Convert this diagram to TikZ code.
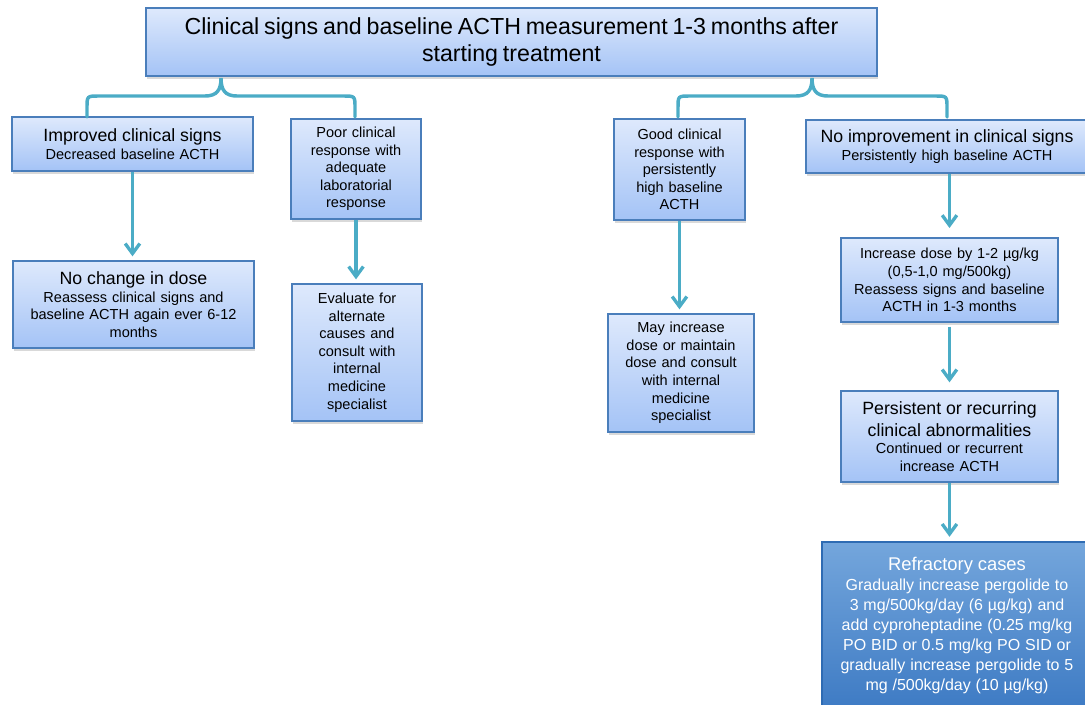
\documentclass[tikz,border=0pt]{standalone}
\usepackage{fontspec}
\setmainfont{Liberation Sans}
\usetikzlibrary{arrows.meta,shadows}

\definecolor{boxtop}{HTML}{DEE9FC}
\definecolor{boxbot}{HTML}{A4C3F6}
\definecolor{boxline}{HTML}{4A7EBB}
\definecolor{flowc}{HTML}{4BACC6}
\definecolor{hottop}{HTML}{74A6DC}
\definecolor{hotbot}{HTML}{3E7BC4}
\definecolor{hotline}{HTML}{2E6BB3}

\newcommand\bigt{\fontsize{17.4}{20.3}\selectfont}
\newcommand\ttl{\fontsize{13.3}{16.3}\selectfont}
\newcommand\sbt{\fontsize{10.9}{13.2}\selectfont}
\newcommand\rft{\fontsize{13.8}{16.5}\selectfont}
\newcommand\rfb{\fontsize{12}{15}\selectfont}

\tikzset{
  box/.style={draw=boxline, line width=1pt, top color=boxtop, bottom color=boxbot,
    inner sep=0pt, align=center, font=\sbt,
    drop shadow={shadow xshift=1pt, shadow yshift=-2pt, opacity=0.3}},
  hot/.style={box, draw=hotline, line width=1.8pt, top color=hottop,
    bottom color=hotbot, text=white},
  wh/.style 2 args={minimum width=#1pt, minimum height=#2pt, text width=#1pt},
  flow/.style={draw=flowc, line width=2.5pt,
    -{Straight Barb[length=7.5pt,width=11pt]}, shorten >=3pt},
  curly/.style={draw=flowc, line width=2.6pt, line cap=round}
}

\begin{document}
\begin{tikzpicture}[x=0.75pt, y=-0.75pt]
        \useasboundingbox (0,0) rectangle (1085,704);
        % 顶部框
        \node[box, wh={548.25}{51}] (top) at (511.5,42)
          {\bigt Clinical signs and baseline ACTH measurement 1-3 months after\\starting treatment\par};
        % 第二层四个框
        \node[box, wh={180.75}{40.5}] (improved) at (132.5,144)
          {\ttl Improved clinical signs\par\sbt Decreased baseline ACTH\par};
        \node[box, wh={97.5}{75}] (poor) at (356,169)
          {Poor clinical\\response with\\adequate\\laboratorial\\response\par};
        \node[box, wh={98.25}{75.75}] (good) at (679.5,169.5)
          {Good clinical\\response with\\persistently\\high baseline\\ACTH\par};
        \node[box, wh={211.5}{39.75}] (noimpr) at (947,146.5)
          {\ttl No improvement in clinical signs\par\sbt Persistently high baseline ACTH\par};
        % 第三层
        \node[box, wh={180.75}{65.25}] (nochange) at (133.5,304.5)
          {\ttl No change in dose\par\sbt Reassess clinical signs and\\baseline ACTH again ever 6-12\\months\par};
        \node[box, wh={97.5}{102.75}] (evaluate) at (357,352.5)
          {Evaluate for\\alternate\\causes and\\consult with\\internal\\medicine\\specialist\par};
        \node[box, wh={109.5}{88.5}] (mayinc) at (681,373)
          {May increase\\dose or maintain\\dose and consult\\with internal\\medicine\\specialist\par};
        \node[box, wh={162.75}{63}] (incdose) at (949.5,280)
          {Increase dose by 1-2 µg/kg\\(0,5-1,0 mg/500kg)\\Reassess signs and baseline\\ACTH in 1-3 months\par};
        \node[box, wh={162.75}{68.25}] (persist) at (949.5,436.5)
          {\ttl Persistent or recurring\\clinical abnormalities\par\sbt Continued or recurrent\\increase ACTH\par};
        % 难治病例
        \node[hot, wh={202.5}{124.5}] (refract) at (957,625)
          {\rft Refractory cases\par\rfb Gradually increase pergolide to\\3 mg/500kg/day (6 µg/kg) and\\add cyproheptadine (0.25 mg/kg\\PO BID or 0.5 mg/kg PO SID or\\gradually increase pergolide to 5\\mg /500kg/day (10 µg/kg)\par};
        % 两个括号
        \coordinate (tipA) at (221,78);
        \coordinate (tipB) at (812,78);
        \draw[curly] (87,117) -- (87,108) .. controls (87,96) .. (99,96) -- (205,96)
          .. controls (217,96) and (tipA |- 0,90) .. (tipA)
          .. controls (tipA |- 0,90) and (225,96) .. (237,96) -- (343,96)
          .. controls (355,96) .. (355,108) -- (355,117);
        \draw[curly] (678,117) -- (678,108) .. controls (678,96) .. (690,96) -- (796,96)
          .. controls (808,96) and (tipB |- 0,90) .. (tipB)
          .. controls (tipB |- 0,90) and (816,96) .. (828,96) -- (935,96)
          .. controls (947,96) .. (947,108) -- (947,117);
        % 箭头
        \draw[flow] (improved.south) -- (improved.south |- nochange.north);
        \draw[flow] (poor.south) -- (poor.south |- evaluate.north);
        \draw[flow] (good.south) -- (good.south |- mayinc.north);
        \draw[flow, shorten >=7pt] (incdose.south |- noimpr.south) -- (incdose.north);
        \draw[flow, shorten <=3pt, shorten >=6pt] (incdose.south) -- (persist.north);
        \draw[flow] (persist.south) -- (persist.south |- refract.north);
      \end{tikzpicture}
\end{document}
